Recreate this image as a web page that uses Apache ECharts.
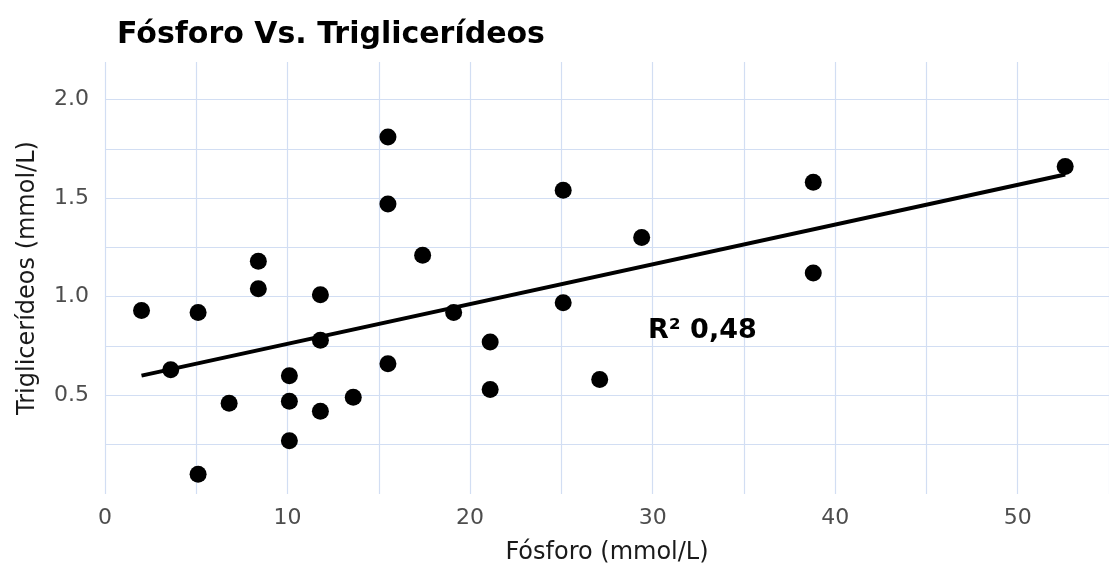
<!DOCTYPE html>
<html>
<head>
<meta charset="utf-8">
<script src="https://cdn.jsdelivr.net/npm/echarts@6/dist/echarts.min.js"></script>
<style>
html,body{margin:0;padding:0;background:#fff;}
#chart{width:1109px;height:564px;}
</style>
</head>
<body>
<div id="chart"></div>
<script>
// Data
const fosforo = [2.0, 3.6, 5.1, 5.1, 6.8, 8.4, 8.4, 10.1, 10.1, 10.1, 11.8, 11.8, 11.8, 13.6, 15.5, 15.5, 15.5, 17.4, 19.1, 21.1, 21.1, 25.1, 25.1, 27.1, 29.4, 38.8, 38.8, 52.6];
const triglicerideos = [0.93, 0.63, 0.92, 0.10, 0.46, 1.18, 1.04, 0.60, 0.47, 0.27, 1.01, 0.78, 0.42, 0.49, 1.81, 1.47, 0.66, 1.21, 0.92, 0.77, 0.53, 1.54, 0.97, 0.58, 1.30, 1.58, 1.12, 1.66];
const trendX = [2.0, 52.6];
const trendY = [0.60, 1.62];
const xTickLabels = ['0', '10', '20', '30', '40', '50'];
const yTickLabels = ['0.5', '1.0', '1.5', '2.0'];
const r2Text = 'R² 0,48';
const r2Pos = [29.75, 0.825];

const FONT = 'DejaVu Sans';
const GRID = '#d2def3';

const points = fosforo.map((x, i) => [x, triglicerideos[i]]);
const trend = trendX.map((x, i) => [x, trendY[i]]);

const chart = echarts.init(document.getElementById('chart'), null, {renderer: 'canvas'});
chart.setOption({
  animation: false,
  backgroundColor: '#ffffff',
  title: {
    text: 'Fósforo Vs. Triglicerídeos',
    left: 112,
    top: 15,
    textStyle: {fontFamily: FONT, fontSize: 30, fontWeight: 'bold', color: '#000'}
  },
  grid: {left: 105, right: 0, top: 62, bottom: 70, containLabel: false, outerBoundsMode: 'none'},
  xAxis: {
    type: 'value',
    min: 0, max: 55, interval: 5,
    name: 'Fósforo (mmol/L)',
    nameLocation: 'middle',
    nameGap: 47,
    nameTextStyle: {fontFamily: FONT, fontSize: 24, color: '#1a1a1a'},
    axisLine: {show: false},
    axisTick: {show: false},
    axisLabel: {
      fontFamily: FONT, fontSize: 22, color: '#4d4d4d', margin: 13,
      showMaxLabel: false,
      formatter: v => {
        const s = String(Math.round(v));
        return xTickLabels.indexOf(s) >= 0 && Math.abs(v - Math.round(v)) < 1e-6 ? s : '';
      }
    },
    splitLine: {show: true, lineStyle: {color: GRID, width: 1.2}}
  },
  yAxis: {
    type: 'value',
    min: 0, max: 2.19, interval: 0.25,
    name: 'Triglicerídeos (mmol/L)',
    nameLocation: 'middle',
    nameGap: 65,
    nameTextStyle: {fontFamily: FONT, fontSize: 24, color: '#1a1a1a'},
    axisLine: {show: false},
    axisTick: {show: false},
    axisLabel: {
      fontFamily: FONT, fontSize: 22, color: '#4d4d4d', margin: 16,
      showMinLabel: false, showMaxLabel: false,
      formatter: v => {
        const s = v.toFixed(1);
        return yTickLabels.indexOf(s) >= 0 && Math.abs(v * 2 - Math.round(v * 2)) < 1e-6 ? s : '';
      }
    },
    splitLine: {show: true, showMinLine: false, showMaxLine: false, lineStyle: {color: GRID, width: 1.2}}
  },
  series: [
    {
      type: 'scatter',
      data: points,
      symbolSize: 17,
      itemStyle: {color: '#000', opacity: 1},
      z: 3
    },
    {
      type: 'line',
      data: trend,
      showSymbol: false,
      symbol: 'none',
      lineStyle: {color: '#000', width: 4, cap: 'butt'},
      z: 4
    },
    {
      type: 'scatter',
      data: [r2Pos],
      symbolSize: 0,
      itemStyle: {color: '#000', opacity: 1},
      label: {
        show: true, position: 'right', distance: 0,
        formatter: r2Text,
        fontFamily: FONT, fontSize: 27, fontWeight: 'bold', color: '#000', opacity: 1
      },
      z: 5
    }
  ]
});
</script>
</body>
</html>
